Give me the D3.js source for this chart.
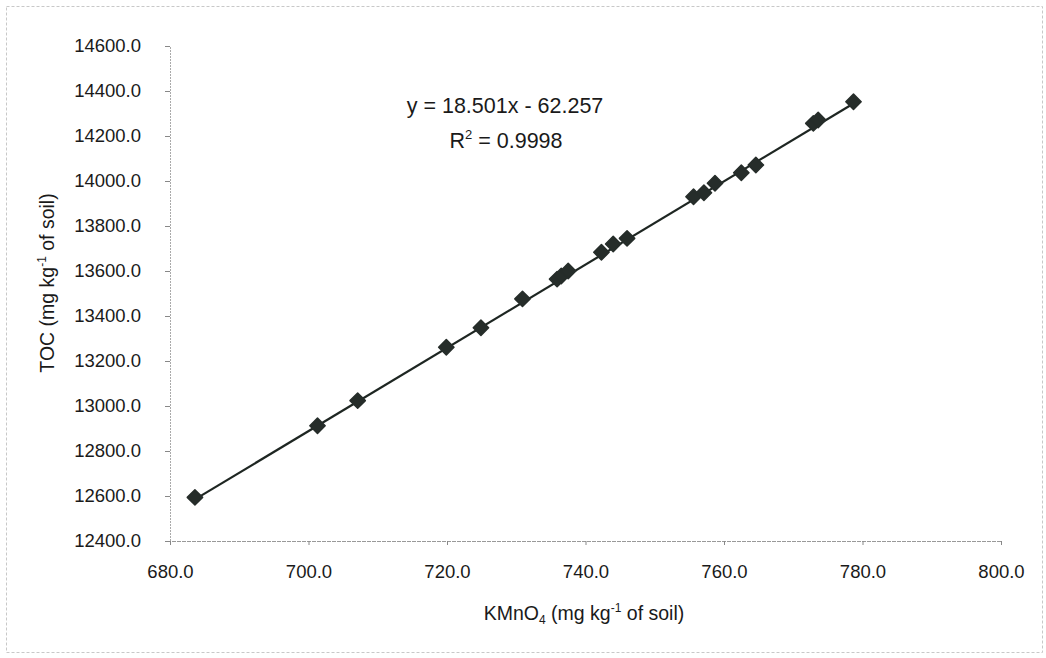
<!DOCTYPE html>
<html>
<head>
<meta charset="utf-8">
<script src="https://cdn.jsdelivr.net/npm/d3@7"></script>
<style>
  html, body { margin: 0; padding: 0; background: #fff; }
  svg { display: block; font-family: "Liberation Sans", Arial, sans-serif; }
</style>
</head>
<body>
<svg id="chart" width="1046" height="658"></svg>
<script>
// KMnO4 (mg/kg soil) vs TOC (mg/kg soil)
const kmno4 = [683.6, 701.3, 707.1, 719.9, 724.9, 730.9, 735.9, 736.5, 737.5, 742.3, 744.0, 746.0, 755.6, 757.1, 758.7, 762.5, 764.6, 772.9, 773.6, 778.7];
const toc   = [12594, 12912, 13024, 13261, 13348, 13476, 13564, 13578, 13600, 13683, 13720, 13745, 13930, 13948, 13990, 14037, 14071, 14256, 14271, 14352];
const xTicks = [680, 700, 720, 740, 760, 780, 800];
const yTicks = [12400, 12600, 12800, 13000, 13200, 13400, 13600, 13800, 14000, 14200, 14400, 14600];
const slope = 18.501, intercept = -62.257, r2 = 0.9998;

const svg = d3.select("#chart");
const W = 1046, H = 658;
const m = { left: 170, right: 1001, top: 46, bottom: 541 };

const x = d3.scaleLinear().domain([680, 800]).range([m.left, m.right]);
const y = d3.scaleLinear().domain([12400, 14600]).range([m.bottom, m.top]);

// outer frame
svg.append("rect").attr("x", 6.5).attr("y", 6.5).attr("width", W - 10).attr("height", H - 12)
  .attr("fill", "none").attr("stroke", "#c8c8c8").attr("stroke-width", 1).attr("stroke-dasharray", "3,2");

// y axis
const yAxis = svg.append("g").attr("transform", `translate(${m.left},0)`)
  .call(d3.axisLeft(y).tickValues(yTicks).tickFormat(d3.format(".1f")).tickSize(5).tickPadding(24));
yAxis.select(".domain").attr("stroke", "#aaa").attr("stroke-dasharray", "2,1");
yAxis.selectAll(".tick line").attr("stroke", "#888");
yAxis.selectAll("text").attr("font-size", 18.5).attr("fill", "#1a1a1a").attr("font-family", "Liberation Sans, Arial, sans-serif");

// x axis
const xAxis = svg.append("g").attr("transform", `translate(0,${m.bottom})`)
  .call(d3.axisBottom(x).tickValues(xTicks).tickFormat(d3.format(".1f")).tickSize(4).tickPadding(20));
xAxis.select(".domain").attr("stroke", "#999").attr("stroke-dasharray", "4,1");
xAxis.selectAll(".tick line").attr("stroke", "#888");
xAxis.selectAll("text").attr("font-size", 18.5).attr("fill", "#1a1a1a").attr("font-family", "Liberation Sans, Arial, sans-serif");

// trendline across data range
const xMin = d3.min(kmno4), xMax = d3.max(kmno4);
svg.append("line")
  .attr("x1", x(xMin)).attr("y1", y(slope * xMin + intercept))
  .attr("x2", x(xMax)).attr("y2", y(slope * xMax + intercept))
  .attr("stroke", "#1e2622").attr("stroke-width", 2.2);

// points (diamonds)
const sym = d3.symbol().type(d3.symbolDiamond2 || d3.symbolDiamond).size(150);
svg.append("g").selectAll("path").data(kmno4.map((v, i) => [v, toc[i]])).join("path")
  .attr("transform", d => `translate(${x(d[0])},${y(d[1])})`)
  .attr("d", sym).attr("fill", "#262d2a").attr("stroke", "#262d2a").attr("stroke-width", 1.5).attr("stroke-linejoin", "round");

// equation
const eq = svg.append("text").attr("x", 505).attr("y", 113).attr("text-anchor", "middle")
  .attr("font-size", 21.5).attr("fill", "#1a1a1a")
  .text(`y = ${slope}x - ${Math.abs(intercept)}`);
const rt = svg.append("text").attr("x", 506).attr("y", 148).attr("text-anchor", "middle")
  .attr("font-size", 21.5).attr("fill", "#1a1a1a");
rt.append("tspan").text("R");
rt.append("tspan").attr("dy", -9).attr("font-size", 13).text("2");
rt.append("tspan").attr("dy", 9).text(` = ${r2}`);

// axis titles
const xt = svg.append("text").attr("x", 584).attr("y", 620).attr("text-anchor", "middle")
  .attr("font-size", 19.5).attr("fill", "#1a1a1a");
xt.append("tspan").text("KMnO");
xt.append("tspan").attr("dy", 4).attr("font-size", 12).text("4");
xt.append("tspan").attr("dy", -4).text(" (mg kg");
xt.append("tspan").attr("dy", -8).attr("font-size", 12).text("-1");
xt.append("tspan").attr("dy", 8).text(" of soil)");

const yt = svg.append("text").attr("transform", `translate(54,283) rotate(-90)`).attr("text-anchor", "middle")
  .attr("font-size", 19.5).attr("fill", "#1a1a1a");
yt.append("tspan").text("TOC (mg kg");
yt.append("tspan").attr("dy", -8).attr("font-size", 12).text("-1");
yt.append("tspan").attr("dy", 8).text(" of soil)");
</script>
</body>
</html>
